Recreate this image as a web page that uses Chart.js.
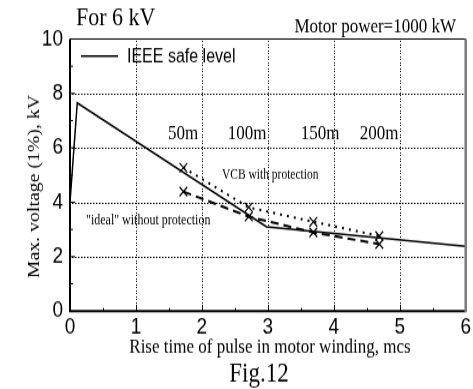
<!DOCTYPE html>
<html>
<head>
<meta charset="utf-8">
<script src="https://cdn.jsdelivr.net/npm/chart.js@4/dist/chart.umd.min.js"></script>
<style>
html, body { margin: 0; padding: 0; background: #fff; overflow: hidden; }
#wrap { width: 473px; height: 389px; }
/* the scanned figure is stretched vertically, so draw short and scale up */
#fig { display: block; transform: scaleY(1.2); transform-origin: 0 0; }
</style>
</head>
<body>
<div id="wrap"><canvas id="fig" width="473" height="324"></canvas></div>
<script>
"use strict"

// data
const riseTimes = [1.72, 2.71, 3.69, 4.69]
const vcbVoltage = [5.27, 3.81, 3.28, 2.76]
const idealVoltage = [4.39, 3.47, 2.89, 2.46]
const cableLengths = ["50m", "100m", "150m", "200m"]
const ieeeTimes = [0, 0.11, 2.98, 6]
const ieeeLevel = [4.0, 7.65, 3.1, 2.38]
const xTicks = [0, 1, 2, 3, 4, 5, 6]
const yTicks = [0, 2, 4, 6, 8, 10]

const SERIF = "'Liberation Serif', 'Times New Roman', serif"
const SANS = "'Liberation Sans', Arial, sans-serif"
const SY = 1.2 // vertical stretch of the page

function pts(xs, ys) {
	return xs.map((x, i) => ({ x: x, y: ys[i] }))
}

// plot box taken from the scales themselves
function box(chart) {
	const xs = chart.scales.x
	const ys = chart.scales.y
	return {
		left: xs.getPixelForValue(xTicks[0]),
		right: xs.getPixelForValue(xTicks[xTicks.length - 1]),
		top: ys.getPixelForValue(yTicks[yTicks.length - 1]),
		bottom: ys.getPixelForValue(yTicks[0]),
	}
}

// dotted grid at the inner ticks, drawn as pixel dots so it stays crisp
const dottedGrid = {
	id: "dottedGrid",
	beforeDatasetsDraw(chart) {
		const ctx = chart.ctx
		const a = box(chart)
		const xs = chart.scales.x
		const ys = chart.scales.y
		ctx.save()
		ctx.fillStyle = "#000"
		xTicks.slice(1, -1).forEach((v) => {
			const px = Math.round(xs.getPixelForValue(v))
			for (let y = Math.ceil(a.top) + 1; y < a.bottom; y += 2.5) {
				ctx.fillRect(px, Math.round(y), 1, 1)
			}
		})
		yTicks.slice(1, -1).forEach((v) => {
			const py = Math.round(ys.getPixelForValue(v))
			for (let x = Math.ceil(a.left) + 2; x < a.right; x += 3) {
				ctx.fillRect(x, py, 1.5, 1)
			}
		})
		ctx.restore()
	},
}

const decor = {
	id: "decor",
	afterDraw(chart) {
		const ctx = chart.ctx
		const a = box(chart)
		const xs = chart.scales.x
		const ys = chart.scales.y
		ctx.save()
		ctx.setLineDash([])

		// tick marks inside the frame
		ctx.strokeStyle = "#000"
		ctx.lineWidth = 1
		for (let v = 0.5; v < 6; v += 0.5) {
			const px = Math.round(xs.getPixelForValue(v)) + 0.5
			const len = v % 1 === 0 ? 4 : 2.5
			ctx.beginPath()
			ctx.moveTo(px, a.bottom)
			ctx.lineTo(px, a.bottom - len)
			ctx.stroke()
		}
		for (let v = 1; v < 10; v += 1) {
			const py = ys.getPixelForValue(v)
			const len = v % 2 === 0 ? 5 : 3
			ctx.beginPath()
			ctx.moveTo(a.left, py)
			ctx.lineTo(a.left + len, py)
			ctx.stroke()
		}

		// frame
		ctx.lineWidth = 1.2
		ctx.beginPath()
		ctx.moveTo(a.left, a.top)
		ctx.lineTo(a.right, a.top)
		ctx.stroke()
		ctx.lineWidth = 2
		ctx.beginPath()
		ctx.moveTo(a.left, a.top)
		ctx.lineTo(a.left, a.bottom)
		ctx.lineTo(a.right, a.bottom)
		ctx.stroke()
		ctx.strokeStyle = "#7a7a7a"
		ctx.lineWidth = 2.5
		ctx.beginPath()
		ctx.moveTo(a.right, a.top)
		ctx.lineTo(a.right, a.bottom + 1)
		ctx.stroke()

		// legend (only the IEEE line is listed)
		const ly = 56 / SY
		ctx.strokeStyle = "#000"
		ctx.lineWidth = 1.5
		ctx.beginPath()
		ctx.moveTo(81, ly)
		ctx.lineTo(118, ly)
		ctx.stroke()
		ctx.fillStyle = "#000"
		ctx.font = "16px " + SANS
		ctx.textBaseline = "middle"
		ctx.textAlign = "left"
		ctx.fillText(chart.data.datasets[0].label, 127, ly + 0.5)

		// titles
		ctx.textBaseline = "alphabetic"
		ctx.font = "22px " + SERIF
		ctx.fillText("For 6 kV", 76, 25 / SY)
		ctx.font = "17px " + SERIF
		ctx.textAlign = "right"
		ctx.fillText("Motor power=1000 kW", 456, 32 / SY)

		ctx.textAlign = "center"
		ctx.font = "17px " + SERIF
		ctx.fillText("Rise time of pulse in motor winding, mcs", 270, 353 / SY)
		ctx.font = "23px " + SERIF
		ctx.fillText("Fig.12", 259, 381 / SY)

		ctx.save()
		ctx.translate(35, 186.5 / SY)
		ctx.rotate(-Math.PI / 2)
		ctx.font = "16.5px " + SERIF
		ctx.textBaseline = "middle"
		ctx.fillText("Max. voltage (1%), kV", 0, 0)
		ctx.restore()

		// cable length labels above each pair of markers
		const labelX = [183, 247, 320, 379]
		ctx.font = "17px " + SERIF
		cableLengths.forEach((t, i) => {
			ctx.fillText(t, labelX[i], 139 / SY)
		})

		ctx.font = "11.5px " + SERIF
		ctx.textAlign = "left"
		ctx.fillText("VCB with protection", 222, 179 / SY)
		ctx.font = "12px " + SERIF
		ctx.fillText("\"ideal\" without protection", 86, 224 / SY)

		ctx.restore()
	},
}

const ctx = document.getElementById("fig")
const myChart = new Chart(ctx, {
	type: "scatter",
	data: {
		datasets: [
			{
				label: "IEEE safe level",
				data: pts(ieeeTimes, ieeeLevel),
				showLine: true,
				borderColor: "#000",
				borderWidth: 1.5,
				pointRadius: 0,
				tension: 0,
			},
			{
				label: "VCB with protection",
				data: pts(riseTimes, vcbVoltage),
				showLine: true,
				borderColor: "#000",
				borderWidth: 2,
				borderDash: [2, 5],
				pointStyle: "crossRot",
				pointRadius: 5.5,
				pointBorderWidth: 1.2,
				pointBorderColor: "#000",
				pointBackgroundColor: "#000",
			},
			{
				label: "\"ideal\" without protection",
				data: pts(riseTimes, idealVoltage),
				showLine: true,
				borderColor: "#000",
				borderWidth: 2,
				borderDash: [8, 5],
				pointStyle: "crossRot",
				pointRadius: 5.5,
				pointBorderWidth: 1.2,
				pointBorderColor: "#000",
				pointBackgroundColor: "#000",
			},
		],
	},
	options: {
		responsive: false,
		animation: false,
		devicePixelRatio: 1,
		layout: {
			padding: { top: 39 / SY, right: 5, bottom: 0, left: 0 },
		},
		plugins: {
			legend: { display: false },
			tooltip: { enabled: false },
		},
		scales: {
			x: {
				type: "linear",
				min: xTicks[0],
				max: xTicks[xTicks.length - 1],
				afterBuildTicks: (s) => {
					s.ticks = xTicks.map((v) => ({ value: v }))
				},
				afterFit: (s) => {
					s.height = 324 - 311 / SY
				},
				ticks: {
					color: "#000",
					font: { family: SANS, size: 19 },
					padding: 2,
					maxRotation: 0,
				},
				grid: { color: "rgba(0,0,0,0)", drawTicks: false },
				border: { display: false },
			},
			y: {
				type: "linear",
				min: yTicks[0],
				max: yTicks[yTicks.length - 1],
				afterBuildTicks: (s) => {
					s.ticks = yTicks.map((v) => ({ value: v }))
				},
				afterFit: (s) => {
					s.width = 70
				},
				ticks: {
					color: "#000",
					font: { family: SANS, size: 19 },
					padding: 7,
				},
				grid: { color: "rgba(0,0,0,0)", drawTicks: false },
				border: { display: false },
			},
		},
	},
	plugins: [dottedGrid, decor],
})
</script>
</body>
</html>
